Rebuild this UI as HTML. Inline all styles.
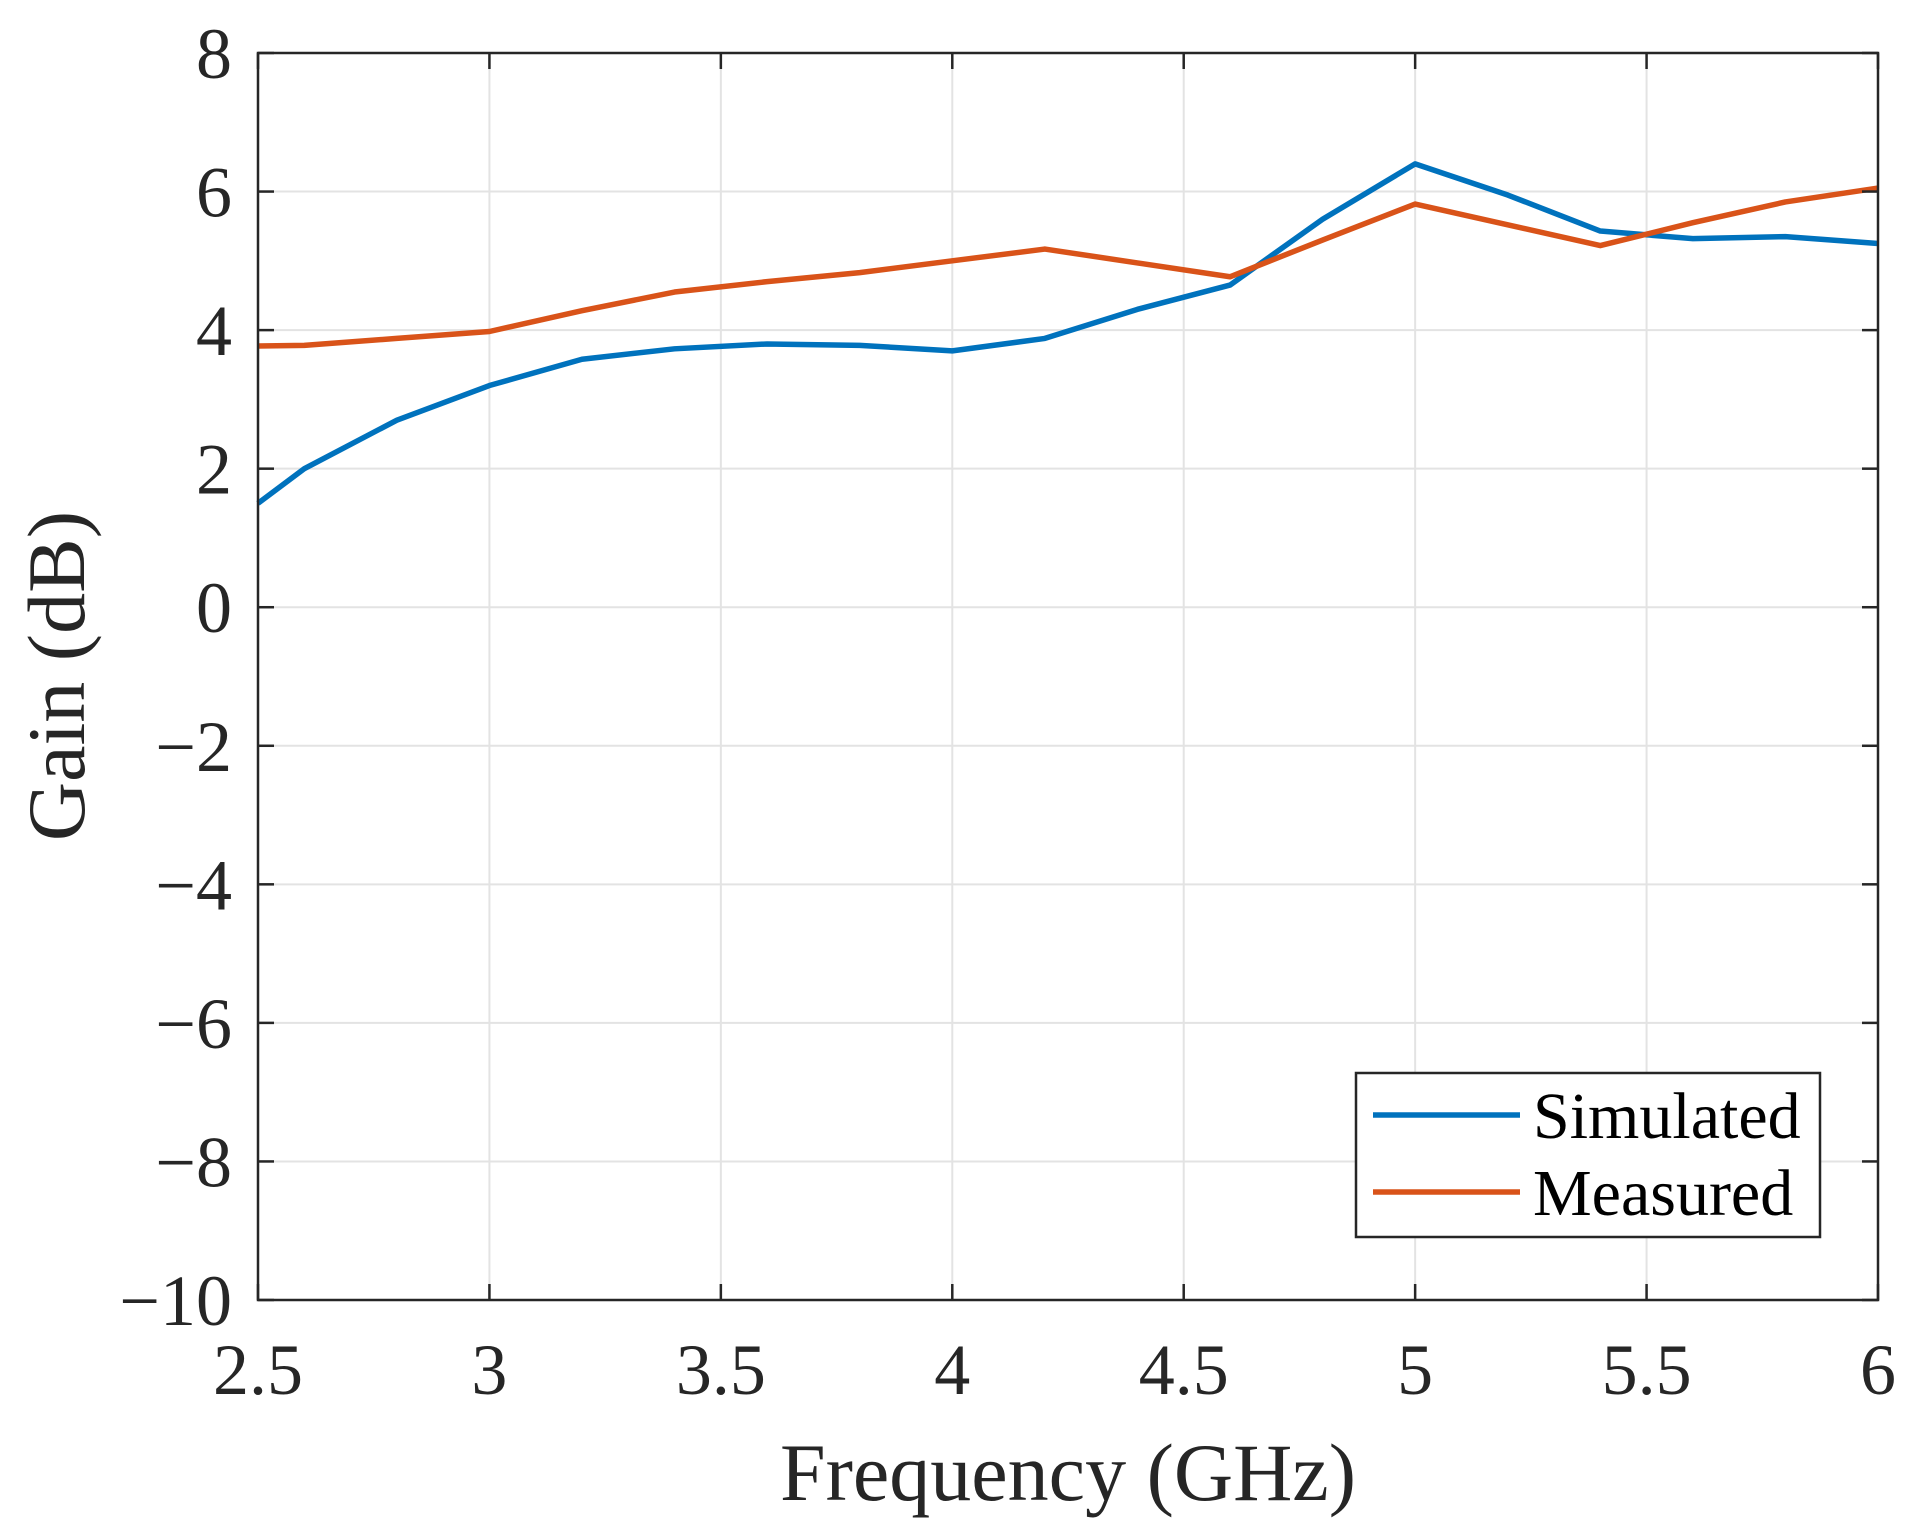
<!DOCTYPE html>
<html><head><meta charset="utf-8"><style>
html,body{margin:0;padding:0;background:#fff;}
svg{display:block;font-family:"Liberation Serif",serif;}
</style></head><body>
<svg id="chart" width="1915" height="1538" viewBox="0 0 1915 1538" xmlns="http://www.w3.org/2000/svg">
<g id="grid"></g><g id="series"></g><g id="axes"></g>
</svg>
<script>
const freqs = [2.5,2.6,2.8,3.0,3.2,3.4,3.6,3.8,4.0,4.2,4.4,4.6,4.8,5.0,5.2,5.4,5.6,5.8,6.0];
const simulated = [1.5,2.0,2.7,3.2,3.58,3.73,3.8,3.78,3.7,3.88,4.3,4.65,5.6,6.4,5.95,5.43,5.32,5.35,5.25];
const measured = [3.77,3.78,3.88,3.98,4.28,4.55,4.7,4.83,5.0,5.17,4.97,4.77,5.3,5.82,5.52,5.22,5.55,5.85,6.05];
const xTicks = [2.5,3,3.5,4,4.5,5,5.5,6];
const xTickLabels = ["2.5","3","3.5","4","4.5","5","5.5","6"];
const yTicks = [8,6,4,2,0,-2,-4,-6,-8,-10];
const yTickLabels = ["8","6","4","2","0","\u22122","\u22124","\u22126","\u22128","\u221210"];

const L=258,R=1878,T=53,B=1300;
const sx=v=>L+(v-2.5)/3.5*(R-L);
const sy=v=>T+(8-v)/18*(B-T);
const NS="http://www.w3.org/2000/svg";
function mk(tag,attrs,parent,text){const e=document.createElementNS(NS,tag);for(const k in attrs)e.setAttribute(k,attrs[k]);if(text!==undefined)e.textContent=text;parent.appendChild(e);return e;}
const grid=document.getElementById('grid'),series=document.getElementById('series'),axes=document.getElementById('axes');
xTicks.forEach((t,i)=>{
  const g=mk('line',{x1:sx(t),x2:sx(t),y1:T,y2:B,stroke:'#e3e3e3','stroke-width':2},grid);
  
  
  mk('line',{x1:sx(t),x2:sx(t),y1:B,y2:B-16,stroke:'#262626','stroke-width':2.5},axes);
  mk('line',{x1:sx(t),x2:sx(t),y1:T,y2:T+16,stroke:'#262626','stroke-width':2.5},axes);
  const tx=mk('text',{x:sx(t),y:1394,'text-anchor':'middle','font-size':72,fill:'#262626'},axes,xTickLabels[i]);
  
  
});
yTicks.forEach((t,i)=>{
  const g=mk('line',{x1:L,x2:R,y1:sy(t),y2:sy(t),stroke:'#e3e3e3','stroke-width':2},grid);
  
  
  mk('line',{x1:L,x2:L+16,y1:sy(t),y2:sy(t),stroke:'#262626','stroke-width':2.5},axes);
  mk('line',{x1:R,x2:R-16,y1:sy(t),y2:sy(t),stroke:'#262626','stroke-width':2.5},axes);
  const tx=mk('text',{x:232,y:sy(t)+25,'text-anchor':'end','font-size':72,fill:'#262626'},axes,yTickLabels[i]);
  
  
});
const frame=mk('rect',{x:L,y:T,width:R-L,height:B-T,fill:'none',stroke:'#262626','stroke-width':2.5},axes);


function line(vals,color,name){
  const p=mk('polyline',{points:freqs.map((f,i)=>sx(f)+','+sy(vals[i])).join(' '),fill:'none',stroke:color,'stroke-width':5.5,'stroke-linejoin':'round'},series);
  
  
}
line(simulated,'#0072BD','simulated-line');
line(measured,'#D95319','measured-line');
const xl=mk('text',{x:1068,y:1500,'text-anchor':'middle','font-size':82,fill:'#262626'},axes,'Frequency (GHz)');


const yl=mk('text',{x:0,y:0,'text-anchor':'middle','font-size':82,fill:'#262626',transform:'translate(84,676) rotate(-90)'},axes,'Gain (dB)');


const lg=mk('g',{},axes);


mk('rect',{x:1356,y:1073,width:464,height:164,fill:'#fff',stroke:'#262626','stroke-width':2.5},lg);
mk('line',{x1:1373,x2:1520,y1:1115,y2:1115,stroke:'#0072BD','stroke-width':5.5},lg);
mk('line',{x1:1373,x2:1520,y1:1192,y2:1192,stroke:'#D95319','stroke-width':5.5},lg);
const l1=mk('text',{x:1533,y:1138,'font-size':66,fill:'#000'},lg,'Simulated');


const l2=mk('text',{x:1533,y:1215,'font-size':66,fill:'#000'},lg,'Measured');


</script>
</body></html>
